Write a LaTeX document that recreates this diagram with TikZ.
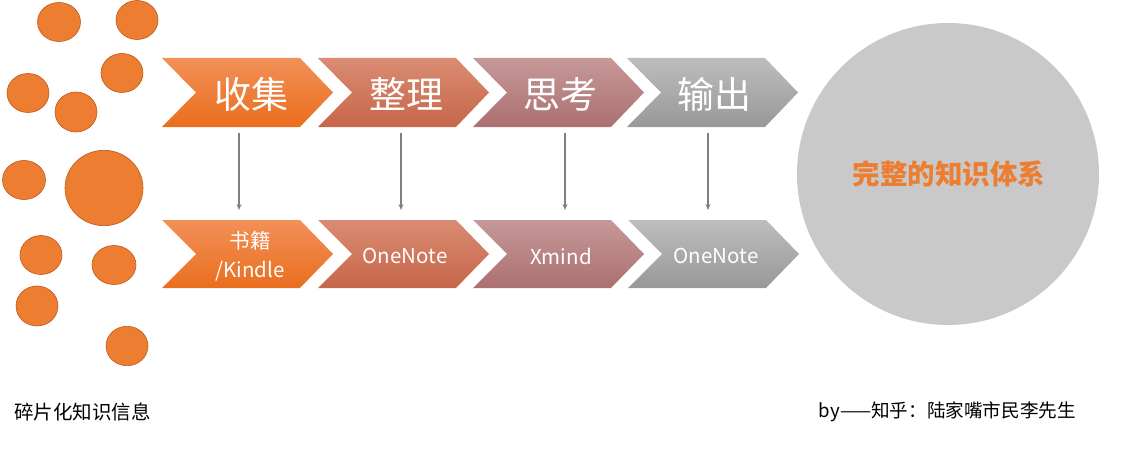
\documentclass[tikz,border=0pt]{standalone}
\usepackage{fontspec}
\setmainfont{Noto Sans CJK SC}
\usetikzlibrary{arrows.meta}
\definecolor{dotor}{HTML}{ED7D31}
\definecolor{dotline}{HTML}{C0581A}
\definecolor{c1t}{HTML}{F29058}
\definecolor{c1b}{HTML}{EA6E1E}
\definecolor{c2t}{HTML}{DA8C72}
\definecolor{c2b}{HTML}{C6664A}
\definecolor{c3t}{HTML}{C69898}
\definecolor{c3b}{HTML}{AC7070}
\definecolor{c4t}{HTML}{BDBDBD}
\definecolor{c4b}{HTML}{989898}
\definecolor{bigc}{HTML}{C9C9C9}
\definecolor{arrg}{HTML}{7F7F7F}
\tikzset{
  dot/.style={fill=dotor,draw=dotline,line width=0.6pt},
  toptxt/.style={text=white,font=\fontsize{37}{40}\selectfont,inner sep=0pt},
  bottxt/.style={text=white,font=\fontsize{20.5}{29}\selectfont,inner sep=0pt,align=center},
  flowarrow/.style={draw=arrg,line width=1.3pt,-{Stealth[length=6pt,width=5pt]}},
  caption/.style={text=black,font=\fontsize{19}{20}\selectfont,inner sep=0pt}
}
\newcommand{\chev}[5]{% x, ytop, ybot, topcolor, bottomcolor
  \shade[top color=#4,bottom color=#5]
    (#1,#2) -- ({#1+138},#2) -- ({#1+171},{(#2+#3)/2}) -- ({#1+138},#3)
    -- (#1,#3) -- ({#1+34},{(#2+#3)/2}) -- cycle;}
\begin{document}
\begin{tikzpicture}[x=1pt,y=-1pt]
\useasboundingbox (0,0) rectangle (1126,468);
% scattered dots
\fill[dot] (59,22) ellipse (21.5 and 19.5);
\fill[dot] (137,20) ellipse (21 and 19.5);
\fill[dot] (122,73) ellipse (21 and 19.5);
\fill[dot] (28,93) ellipse (21 and 19.5);
\fill[dot] (76,112) ellipse (21 and 20);
\fill[dot] (24,180) ellipse (21.5 and 19.5);
\fill[dot] (104,188) ellipse (39 and 37.7);
\fill[dot] (41,255) ellipse (21 and 19.5);
\fill[dot] (114,265) ellipse (22 and 19.5);
\fill[dot] (37,306) ellipse (21 and 20);
\fill[dot] (127,346) ellipse (21 and 19.7);
% top chevrons
\chev{162}{58}{127}{c1t}{c1b}
\chev{318}{58}{127}{c2t}{c2b}
\chev{473}{58}{127}{c3t}{c3b}
\chev{627}{58}{127}{c4t}{c4b}
% bottom chevrons
\chev{162}{220}{288}{c1t}{c1b}
\chev{318}{220}{288}{c2t}{c2b}
\chev{473}{220}{288}{c3t}{c3b}
\chev{628}{220}{288}{c4t}{c4b}
% top labels
\node[toptxt] (t1) at (251,94) {收集};
\node[toptxt] (t2) at (406,94) {整理};
\node[toptxt] (t3) at (560,94) {思考};
\node[toptxt] (t4) at (714,94) {输出};
% bottom labels
\node[bottxt] (b1) at (250,256) {书籍\\/Kindle};
\node[bottxt] (b2) at (405,256) {OneNote};
\node[bottxt] (b3) at (561,256) {Xmind};
\node[bottxt] (b4) at (716,256) {OneNote};
% arrows
\coordinate (a1s) at (239,133); \coordinate (a1e) at (239,210);
\coordinate (a2s) at (401,133); \coordinate (a2e) at (401,210);
\coordinate (a3s) at (565,133); \coordinate (a3e) at (565,210);
\coordinate (a4s) at (708,133); \coordinate (a4e) at (708,210);
\draw[flowarrow] (a1s) -- (a1e);
\draw[flowarrow] (a2s) -- (a2e);
\draw[flowarrow] (a3s) -- (a3e);
\draw[flowarrow] (a4s) -- (a4e);
% big circle
\node[circle,fill=bigc,minimum size=302pt,inner sep=0pt] (goal) at (948,174) {};
\node[text=dotor,font=\fontsize{27.5}{30}\selectfont\bfseries,inner sep=0pt] (goaltxt) at (949,174) {完整的知识体系};
% captions
\node[caption,anchor=west,font=\fontsize{19.5}{20}\selectfont] (lcap) at (14,412) {碎片化知识信息};
\node[caption,anchor=east,font=\fontsize{18.6}{20}\selectfont] (rcap) at (1076,412) {by——知乎：陆家嘴市民李先生};
\end{tikzpicture}
\end{document}
